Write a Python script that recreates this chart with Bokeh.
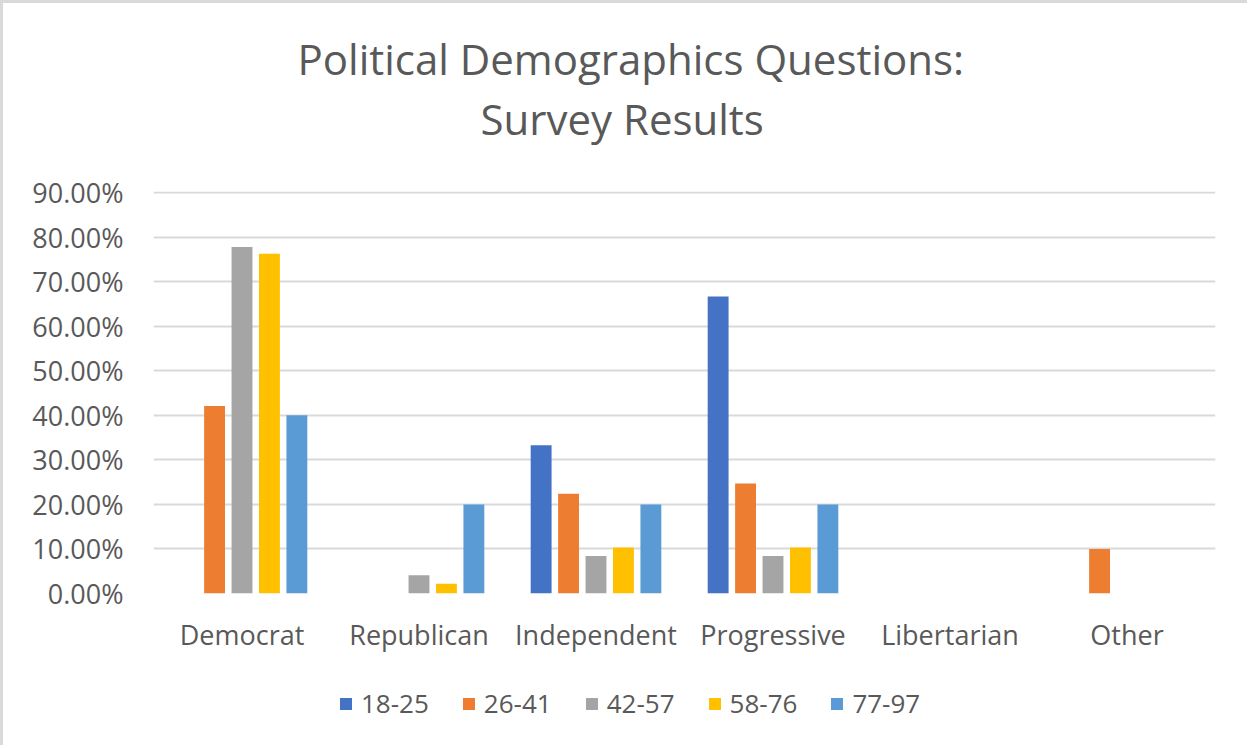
from bokeh.plotting import figure
from bokeh.layouts import column
from bokeh.models import (ColumnDataSource, FactorRange, Range1d, FixedTicker,
                          NumeralTickFormatter, Title, Legend, LegendItem)
from bokeh.transform import dodge
from bokeh.embed import file_html
from bokeh.resources import INLINE

categories = ["Democrat", "Republican", "Independent", "Progressive", "Libertarian", "Other"]
series_names = ["18-25", "26-41", "42-57", "58-76", "77-97"]
s_18_25 = [0.0, 0.0, 0.333, 0.667, 0.0, 0.0]
s_26_41 = [0.421, 0.0, 0.224, 0.247, 0.0, 0.100]
s_42_57 = [0.778, 0.041, 0.084, 0.084, 0.0, 0.0]
s_58_76 = [0.763, 0.022, 0.103, 0.103, 0.0, 0.0]
s_77_97 = [0.400, 0.200, 0.200, 0.200, 0.0, 0.0]
y_ticks = [0.0, 0.1, 0.2, 0.3, 0.4, 0.5, 0.6, 0.7, 0.8, 0.9]

colors = ["#4472C4", "#ED7D31", "#A5A5A5", "#FFC000", "#5B9BD5"]
TEXT = "#595959"
FONT = "Open Sans"

source = ColumnDataSource(dict(cat=categories, a=s_18_25, b=s_26_41,
                               c=s_42_57, d=s_58_76, e=s_77_97))
cols = ["a", "b", "c", "d", "e"]

# ---------------- main chart ----------------
p = figure(x_range=FactorRange(*categories), y_range=Range1d(0, 0.9025),
           frame_width=1062, frame_height=402, output_backend="svg",
           toolbar_location=None,
           min_border_left=150, min_border_right=32, min_border_top=188,
           min_border_bottom=70)
p.outline_line_color = None
p.background_fill_color = "white"
p.border_fill_color = "white"

pitch = 0.155
for i, (col, color) in enumerate(zip(cols, colors)):
    off = (i - 2) * pitch
    p.vbar(x=dodge("cat", off, range=p.x_range), top=col, width=0.118,
           source=source, fill_color=color, line_color=None)

p.xgrid.grid_line_color = None
p.ygrid.grid_line_color = "#D9D9D9"
p.ygrid.grid_line_width = 2
p.yaxis.ticker = FixedTicker(ticks=y_ticks)
p.yaxis.formatter = NumeralTickFormatter(format="0.00%")
for ax in (p.xaxis, p.yaxis):
    ax.axis_line_color = None
    ax.major_tick_line_color = None
    ax.minor_tick_line_color = None
    ax.major_tick_out = 0
    ax.major_tick_in = 0
    ax.major_label_text_color = TEXT
    ax.major_label_text_font = FONT
    ax.major_label_text_font_size = "27px"
p.yaxis.major_label_standoff = 30
p.xaxis.major_label_standoff = 22

# title: spacer nearest the frame, then the two title lines
p.add_layout(Title(text=" ", standoff=42, text_font_size="1px"), "above")
p.add_layout(Title(text="Survey Results", align="left", offset=327, standoff=0,
                   text_font=FONT, text_font_size="42px", text_font_style="normal",
                   text_color=TEXT), "above")
p.add_layout(Title(text="Political Demographics Questions:", align="left", offset=144,
                   standoff=2, text_font=FONT, text_font_size="42px",
                   text_font_style="normal", text_color=TEXT), "above")

# ---------------- legend strip ----------------
# same series drawn with a y range that keeps them out of view; only the legend shows
leg = figure(width=1244, height=82, x_range=FactorRange(*categories),
             y_range=Range1d(5, 6), x_axis_type=None, y_axis_type=None,
             output_backend="svg", toolbar_location=None, min_border=0)
leg.outline_line_color = None
leg.xgrid.grid_line_color = None
leg.ygrid.grid_line_color = None
leg.background_fill_color = "white"
leg.border_fill_color = "white"
items = []
for col, name, color in zip(cols, series_names, colors):
    r = leg.vbar(x="cat", top=col, width=0.1, source=source,
                 fill_color=color, line_color=None)
    items.append(LegendItem(label=name, renderers=[r]))
legend = Legend(items=items, orientation="horizontal", location=(185, 24),
                glyph_width=15, glyph_height=15, label_standoff=8, spacing=32,
                padding=0, margin=0, border_line_color=None,
                background_fill_alpha=0,
                label_text_font=FONT, label_text_font_size="26px",
                label_text_color=TEXT)
leg.add_layout(legend, "center")

layout = column(p, leg, spacing=0)
layout.styles = {"border-left": "3px solid #D9D9D9", "border-top": "3px solid #D9D9D9"}

open("out.html", "w").write(file_html(layout, INLINE))
